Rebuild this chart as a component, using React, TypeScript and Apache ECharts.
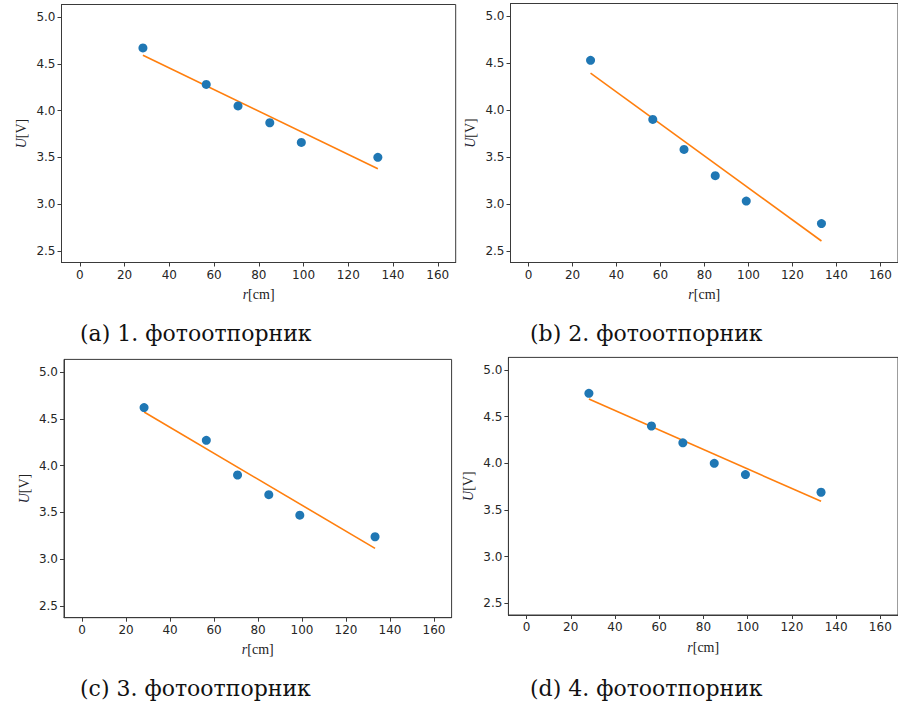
import React, { useEffect, useRef } from "react";
import * as echarts from "echarts";

// Measured distances r [cm] (same for all four photoresistors)
const rValues = [28.2, 56.5, 70.7, 84.9, 99.0, 133.2];
// Measured voltages U [V]
const u1 = [4.67, 4.28, 4.05, 3.87, 3.66, 3.5];
const u2 = [4.53, 3.9, 3.58, 3.3, 3.03, 2.79];
const u3 = [4.62, 4.27, 3.9, 3.69, 3.47, 3.24];
const u4 = [4.75, 4.4, 4.22, 4.0, 3.88, 3.69];
// Fitted line endpoints
const fitX = [28.2, 133.2];
const fit1 = [4.593, 3.378];
const fit2 = [4.393, 2.604];
const fit3 = [4.573, 3.116];
const fit4 = [4.689, 3.593];
// Tick labels
const xTicks = [0, 20, 40, 60, 80, 100, 120, 140, 160];
const yTicks = [2.5, 3.0, 3.5, 4.0, 4.5, 5.0];
const captions = [
  "(a) 1. фотоотпорник",
  "(b) 2. фотоотпорник",
  "(c) 3. фотоотпорник",
  "(d) 4. фотоотпорник",
];

const panels = [
  { u: u1, fit: fit1, grid: { left: 61.5, top: 4.5, width: 394.2, height: 258 }, cap: { x: 80, y: 333 } },
  { u: u2, fit: fit2, grid: { left: 510.5, top: 3.5, width: 397, height: 259 }, cap: { x: 530, y: 333 } },
  { u: u3, fit: fit3, grid: { left: 64, top: 359.4, width: 387.6, height: 258.3 }, cap: { x: 80, y: 688 } },
  { u: u4, fit: fit4, grid: { left: 508.4, top: 357.4, width: 393.8, height: 257.6 }, cap: { x: 530, y: 688 } },
];

const AXIS_COLOR = "#3a3a3a";
const LABEL_COLOR = "#262626";

export default function App() {
  const ref = useRef<HTMLDivElement>(null);
  useEffect(() => {
    if (!ref.current) return;
    const chart = echarts.init(ref.current, undefined, { renderer: "svg" });
    const grids: any[] = [];
    const xAxes: any[] = [];
    const yAxes: any[] = [];
    const series: any[] = [];
    const graphics: any[] = [];
    panels.forEach((p, i) => {
      grids.push({
        ...p.grid,
        show: true,
        borderColor: AXIS_COLOR,
        borderWidth: 1,
        backgroundColor: "transparent",
        containLabel: false,
      });
      xAxes.push({
        type: "value",
        gridIndex: i,
        min: -8.2,
        max: 168,
        splitLine: { show: false },
        axisLine: { show: true, onZero: false, lineStyle: { color: AXIS_COLOR, width: 1 } },
        axisTick: { show: true, inside: false, length: 4, customValues: xTicks, lineStyle: { color: AXIS_COLOR } },
        axisLabel: {
          customValues: xTicks,
          margin: 6,
          color: LABEL_COLOR,
          fontFamily: "DejaVu Sans",
          fontSize: 12,
          formatter: (v: number) => String(Math.round(v)),
        },
        name: "{i|r}[cm]",
        nameLocation: "middle",
        nameGap: 25,
        nameTextStyle: {
          fontFamily: "Liberation Serif",
          fontSize: 14,
          color: "#222",
          rich: { i: { fontFamily: "Liberation Serif", fontStyle: "italic", fontSize: 14, color: "#223" } },
        },
      });
      yAxes.push({
        type: "value",
        gridIndex: i,
        min: 2.375,
        max: 5.135,
        splitLine: { show: false },
        axisLine: { show: true, onZero: false, lineStyle: { color: AXIS_COLOR, width: 1 } },
        axisTick: { show: true, inside: false, length: 4, customValues: yTicks, lineStyle: { color: AXIS_COLOR } },
        axisLabel: {
          customValues: yTicks,
          margin: 6,
          color: LABEL_COLOR,
          fontFamily: "DejaVu Sans",
          fontSize: 12,
          formatter: (v: number) => v.toFixed(1),
        },
        name: "{i|U}[V]",
        nameLocation: "middle",
        nameGap: 33,
        nameTextStyle: {
          fontFamily: "Liberation Serif",
          fontSize: 14,
          color: "#222",
          rich: { i: { fontFamily: "Liberation Serif", fontStyle: "italic", fontSize: 14, color: "#223" } },
        },
      });
      series.push({
        type: "line",
        xAxisIndex: i,
        yAxisIndex: i,
        data: fitX.map((x, k) => [x, p.fit[k]]),
        showSymbol: false,
        symbol: "none",
        lineStyle: { color: "#ff7f0e", width: 1.6 },
        z: 2,
      });
      series.push({
        type: "scatter",
        xAxisIndex: i,
        yAxisIndex: i,
        data: rValues.map((x, k) => [x, p.u[k]]),
        symbol: "circle",
        symbolSize: 9,
        itemStyle: { color: "#1f77b4", opacity: 1 },
        z: 3,
      });
      graphics.push({
        type: "text",
        x: p.cap.x,
        y: p.cap.y,
        style: {
          text: captions[i],
          fontFamily: "DejaVu Serif",
          fontSize: 22,
          fill: "#111",
          textAlign: "left",
          textVerticalAlign: "middle",
        },
      });
    });
    chart.setOption({
      animation: false,
      backgroundColor: "#ffffff",
      grid: grids,
      xAxis: xAxes,
      yAxis: yAxes,
      series,
      graphic: graphics,
    });
    return () => chart.dispose();
  }, []);
  return (
    <div
      ref={ref}
      style={{ position: "absolute", left: 0, top: 0, width: 898, height: 703, overflow: "hidden" }}
    />
  );
}
